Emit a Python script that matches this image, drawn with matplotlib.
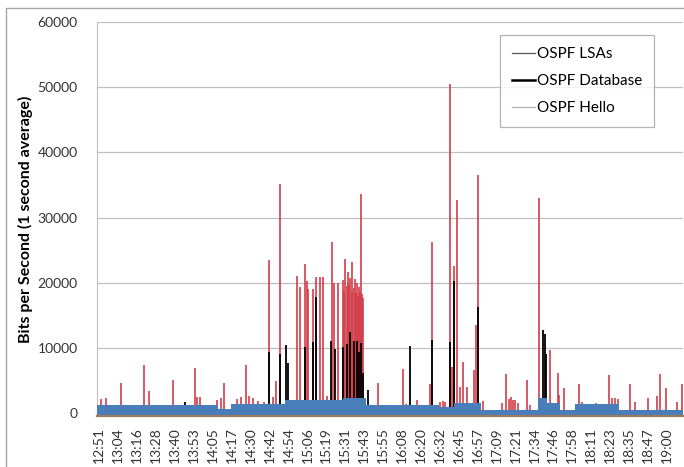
import matplotlib
matplotlib.use('Agg')
import matplotlib.pyplot as plt
from matplotlib.lines import Line2D
from matplotlib.patches import Rectangle
import numpy as np

# Tick labels on the time axis (one every ~12.3 minutes from 12:51)
time_labels = ['12:51', '13:04', '13:16', '13:28', '13:40', '13:53', '14:05', '14:17',
               '14:30', '14:42', '14:54', '15:06', '15:19', '15:31', '15:43', '15:55',
               '16:08', '16:20', '16:32', '16:45', '16:57', '17:09', '17:21', '17:34',
               '17:46', '17:58', '18:11', '18:23', '18:35', '18:47', '19:00']
TICK_STEP = 12.3      # minutes between labels
X_START = -1.5        # axis starts a bit before the first label
X_END = 379.5         # minutes after 12:51 at right edge

# OSPF LSAs spikes: minutes after 12:51, bits per second
lsa_t = [1.3, 4.5, 14.3, 29.2, 32.5, 48.1, 62.4, 63.7, 65.6, 76.7, 79.3, 81.2, 89.7,
         92.3, 95.5, 97.5, 100.1, 103.3, 107.2, 110.3, 112.9, 115.0, 117.4, 124.8,
         128.7, 130.2, 133.7, 134.9, 135.8, 138.9, 141.2, 143.8, 145.4, 148.2, 151.0,
         152.9, 155.3, 158.6, 159.3, 160.0, 160.9, 161.8, 162.6, 163.3, 164.0, 164.6,
         165.4, 166.2, 167.0, 167.7, 168.3, 169.0, 169.7, 170.3, 171.0, 171.6,
         181.3, 197.3, 199.5, 206.6, 215.1, 216.6, 221.6, 223.5, 224.8, 227.8, 229.4,
         230.9, 232.6, 234.3, 236.3, 239.1, 243.4, 245.0, 246.3, 249.5, 261.9, 264.5,
         266.4, 267.7, 269.0, 270.3, 272.3, 278.3, 280.1, 285.7, 292.9, 298.1, 298.9,
         302.4, 311.7, 313.9, 322.9, 331.2, 333.4, 335.3, 337.3, 345.2, 348.3, 356.5,
         362.6, 364.7, 368.6, 375.6, 379.0]
lsa_v = [2200, 2300, 4600, 7350, 3400, 5100, 6850, 2500, 2400, 2000, 2300, 4550, 2200,
         2400, 7300, 2600, 2300, 1800, 1700, 23500, 2500, 4950, 35100, 2000,
         21000, 19400, 22800, 20300, 19000, 19100, 20900, 20800, 20800, 2600, 26300,
         20000, 19900, 20400, 18800, 23600, 19500, 21600, 19800, 20700, 18500, 23100,
         19200, 20600, 18400, 19900, 18000, 19300, 18600, 33600, 18200, 17600,
         4600, 6700, 1400, 2000, 4500, 26300, 1700, 1800, 1700, 50500, 7000,
         22500, 32700, 4000, 7900, 4000, 6600, 13500, 36500, 1800, 1500, 6000,
         2200, 2500, 2000, 2000, 1500, 5000, 1300, 33000, 9600, 6100, 2700,
         3900, 4500, 1700, 1500, 5900, 2300, 2300, 2200, 4400, 1700, 2300,
         2600, 6000, 3900, 1700, 4400]

# OSPF Database spikes
db_t = [55.9, 110.3, 117.4, 121.7, 122.5, 133.7, 138.9, 141.2, 150.8, 153.2, 158.6,
        160.8, 163.3, 165.4, 167.7, 169.0, 170.3, 171.6, 174.5, 201.7, 216.6, 227.8,
        230.9, 246.3, 288.5, 289.5, 290.4]
db_v = [1700, 9400, 9000, 10400, 7700, 10200, 10900, 17800, 11000, 9900, 10200,
        10600, 12500, 11000, 11000, 9400, 10700, 6100, 3500, 10300, 11200, 10900,
        20200, 16300, 12700, 12200, 9000]

# OSPF Hello level: segment start (minutes after 12:51) and band height
hello_t = [-1.5, 77.3, 85.8, 120.9, 158.6, 173.5, 220.9, 230.7, 248.2, 285.3, 291.1,
           299.6, 309.3, 337.9, 379.5]
hello_v = [1300, 600, 1450, 2000, 2300, 1300, 1000, 1600, 500, 2300, 1500,
           500, 1350, 500, 500]

RED = '#d23c48'
BLACK = '#000000'
BLUE = '#4a7ebb'
Y_BOTTOM = -500

plt.rcParams['font.family'] = ['Lato', 'DejaVu Sans']

fig = plt.figure(figsize=(6.84, 4.67), dpi=100)
ax = fig.add_axes([97 / 684, 1 - 416.3 / 467, 586 / 684, 394.3 / 467])

# outer chart border
fig.patches.append(Rectangle((6 / 684, -0.1), 1.2, 1 - 8 / 467 + 0.1,
                             transform=fig.transFigure, fill=False,
                             edgecolor='#a6a6a6', linewidth=1.0))

ax.vlines(lsa_t, 0, lsa_v, color=RED, linewidth=1.2, zorder=2)
ax.vlines(db_t, 0, db_v, color=BLACK, linewidth=1.3, zorder=3)
ax.fill_between(hello_t, Y_BOTTOM, hello_v, step='post', color=BLUE,
                linewidth=0, zorder=4)

ax.set_xlim(X_START, X_END)
ax.set_ylim(Y_BOTTOM, 60000)
ax.set_yticks(range(0, 60001, 10000))
ax.set_xticks(np.arange(len(time_labels)) * TICK_STEP)
ax.set_xticklabels(time_labels, rotation=90)
ax.tick_params(axis='both', length=0, labelsize=10, colors='#333333')
ax.tick_params(axis='x', pad=8)
ax.tick_params(axis='y', pad=14)

ax.grid(axis='y', color='#c0c0c0', linewidth=0.9)
ax.set_axisbelow(True)
for side in ['top', 'right']:
    ax.spines[side].set_visible(False)
ax.spines['left'].set_color('#c0c0c0')
ax.spines['bottom'].set_color('#9c7a5c')
ax.spines['bottom'].set_linewidth(1.6)
ax.spines['bottom'].set_zorder(5)

ax.set_ylabel('Bits per Second (1 second average)', fontsize=11.5,
              fontweight='bold', color='#000000', labelpad=3)

handles = [Line2D([], [], color='#555555', linewidth=0.9),
           Line2D([], [], color='#000000', linewidth=1.8),
           Line2D([], [], color='#b0b0b0', linewidth=0.9)]
leg = ax.legend(handles, ['OSPF LSAs', 'OSPF Database', 'OSPF Hello'],
                loc='upper left', bbox_to_anchor=(0.688, 0.967), fontsize=11,
                frameon=True, fancybox=False, handlelength=1.5, handletextpad=0.1,
                labelspacing=0.85, borderpad=0.8, borderaxespad=0)
leg.get_frame().set_edgecolor('#a0a0a0')
leg.get_frame().set_linewidth(0.9)

plt.savefig('out.png', dpi=100)
